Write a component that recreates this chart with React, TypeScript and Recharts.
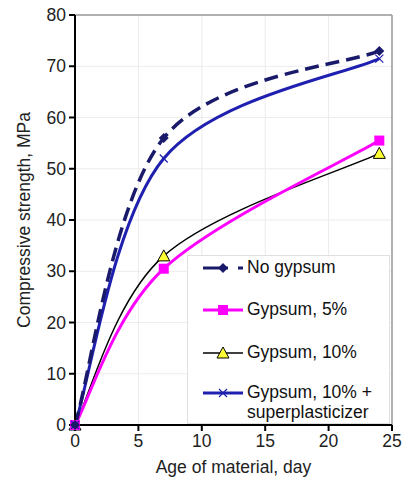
import React from 'react';
import { LineChart, Line, XAxis, YAxis, CartesianGrid, ReferenceLine } from 'recharts';

const days = [0, 7, 24];
const noGypsum = [0, 56, 73];
const gypsum5 = [0, 30.5, 55.5];
const gypsum10 = [0, 33, 53];
const gypsum10Sp = [0, 52, 71.5];
const xTicks = [0, 5, 10, 15, 20, 25];
const yTicks = [0, 10, 20, 30, 40, 50, 60, 70, 80];

const data = days.map((d, i) => ({
  day: d,
  noGypsum: noGypsum[i],
  gypsum5: gypsum5[i],
  gypsum10: gypsum10[i],
  gypsum10Sp: gypsum10Sp[i],
}));

// Excel-like smoothed line (Catmull-Rom as cubic Bezier, in pixel space)
const excelCurve = (context: any) => {
  let pts: number[][] = [];
  return {
    areaStart() {},
    areaEnd() {},
    lineStart() {
      pts = [];
    },
    lineEnd() {
      const n = pts.length;
      if (!n) return;
      context.moveTo(pts[0][0], pts[0][1]);
      for (let i = 0; i < n - 1; i++) {
        const p0 = pts[Math.max(i - 1, 0)];
        const p1 = pts[i];
        const p2 = pts[i + 1];
        const p3 = pts[Math.min(i + 2, n - 1)];
        context.bezierCurveTo(
          p1[0] + (p2[0] - p0[0]) / 6,
          p1[1] + (p2[1] - p0[1]) / 6,
          p2[0] - (p3[0] - p1[0]) / 6,
          p2[1] - (p3[1] - p1[1]) / 6,
          p2[0],
          p2[1]
        );
      }
    },
    point(x: number, y: number) {
      pts.push([+x, +y]);
    },
  };
};

const Diamond = ({ cx, cy }: any) => (
  <path d={`M${cx},${cy - 5}L${cx + 5},${cy}L${cx},${cy + 5}L${cx - 5},${cy}Z`} fill="#1a1a6b" />
);
const Square = ({ cx, cy }: any) => <rect x={cx - 5} y={cy - 5} width={10} height={10} fill="#ff00ff" />;
const Triangle = ({ cx, cy }: any) => (
  <path d={`M${cx},${cy - 6}L${cx + 6},${cy + 5}L${cx - 6},${cy + 5}Z`} fill="#ffff33" stroke="#000" strokeWidth={1} />
);
const Cross = ({ cx, cy }: any) => (
  <path d={`M${cx - 4},${cy - 4}L${cx + 4},${cy + 4}M${cx + 4},${cy - 4}L${cx - 4},${cy + 4}`} stroke="#2020b0" strokeWidth={1.2} />
);

const dotFor = (Comp: any) => (props: any) => <Comp key={props.index} cx={props.cx} cy={props.cy} />;

const legendItems = [
  { label: ['No gypsum'], color: '#1a1a6b', width: 3, dash: '25 10', Mark: Diamond },
  { label: ['Gypsum, 5%'], color: '#ff00ff', width: 3, dash: undefined, Mark: Square },
  { label: ['Gypsum, 10%'], color: '#000', width: 1.5, dash: undefined, Mark: Triangle },
  { label: ['Gypsum, 10% +', 'superplasticizer'], color: '#2020b0', width: 3, dash: undefined, Mark: Cross },
];

const font = 'Liberation Sans, Arial, sans-serif';

const LegendBox = () => (
  <div
    style={{
      position: 'absolute',
      left: 187,
      top: 255,
      width: 203,
      height: 169,
      background: '#fff',
      border: '1px solid #e0e0e0',
      boxSizing: 'border-box',
      fontFamily: font,
      fontSize: 17.5,
      color: '#111',
    }}
  >
    {legendItems.map((it, i) => {
      const top = [1, 43, 86, 126][i];
      return (
        <div key={i} style={{ position: 'absolute', left: 15, top, display: 'flex', alignItems: 'flex-start' }}>
          <svg width={42} height={22} style={{ flex: 'none' }}>
            <line x1={0} y1={11} x2={40} y2={11} stroke={it.color} strokeWidth={it.width} strokeDasharray={it.dash} />
            <it.Mark cx={20} cy={11} />
          </svg>
          <div style={{ lineHeight: '20px', marginLeft: 2, marginTop: 0 }}>
            {it.label.map((l, j) => (
              <div key={j}>{l}</div>
            ))}
          </div>
        </div>
      );
    })}
  </div>
);

export default function App() {
  const tickStyle = { fontSize: 17.5, fill: '#222', fontFamily: font };
  return (
    <div style={{ position: 'absolute', left: 0, top: 0, width: 406, height: 482, background: '#fff' }}>
      <LineChart width={406} height={482} data={data} margin={{ top: 15, right: 14, left: 0, bottom: 0 }}>
        <CartesianGrid stroke="#ececec" strokeWidth={1} />
        <XAxis
          dataKey="day"
          type="number"
          domain={[0, 25]}
          ticks={xTicks}
          height={57}
          stroke="#000"
          strokeWidth={2}
          tickSize={6}
          tick={tickStyle}
          tickMargin={4}
          label={{ value: 'Age of material, day', position: 'insideBottom', offset: 9, style: { ...tickStyle, textAnchor: 'middle' } }}
        />
        <YAxis
          type="number"
          domain={[0, 80]}
          ticks={yTicks}
          width={75}
          stroke="#000"
          strokeWidth={2}
          tickSize={6}
          tick={tickStyle}
          tickMargin={3}
          label={{
            value: 'Compressive strength, MPa',
            angle: -90,
            position: 'insideLeft',
            offset: 24,
            style: { ...tickStyle, textAnchor: 'middle' },
          }}
        />
        <ReferenceLine y={80} stroke="#999" strokeWidth={1.5} />
        <ReferenceLine x={25} stroke="#999" strokeWidth={1.5} />
        <Line
          dataKey="gypsum10"
          type={excelCurve as any}
          stroke="#000"
          strokeWidth={1.5}
          dot={dotFor(Triangle)}
          isAnimationActive={false}
        />
        <Line
          dataKey="gypsum5"
          type={excelCurve as any}
          stroke="#ff00ff"
          strokeWidth={3}
          dot={dotFor(Square)}
          isAnimationActive={false}
        />
        <Line
          dataKey="gypsum10Sp"
          type={excelCurve as any}
          stroke="#2020b0"
          strokeWidth={3}
          dot={dotFor(Cross)}
          isAnimationActive={false}
        />
        <Line
          dataKey="noGypsum"
          type={excelCurve as any}
          stroke="#1a1a6b"
          strokeWidth={3.5}
          strokeDasharray="14 7"
          dot={dotFor(Diamond)}
          isAnimationActive={false}
        />
      </LineChart>
      <LegendBox />
    </div>
  );
}
